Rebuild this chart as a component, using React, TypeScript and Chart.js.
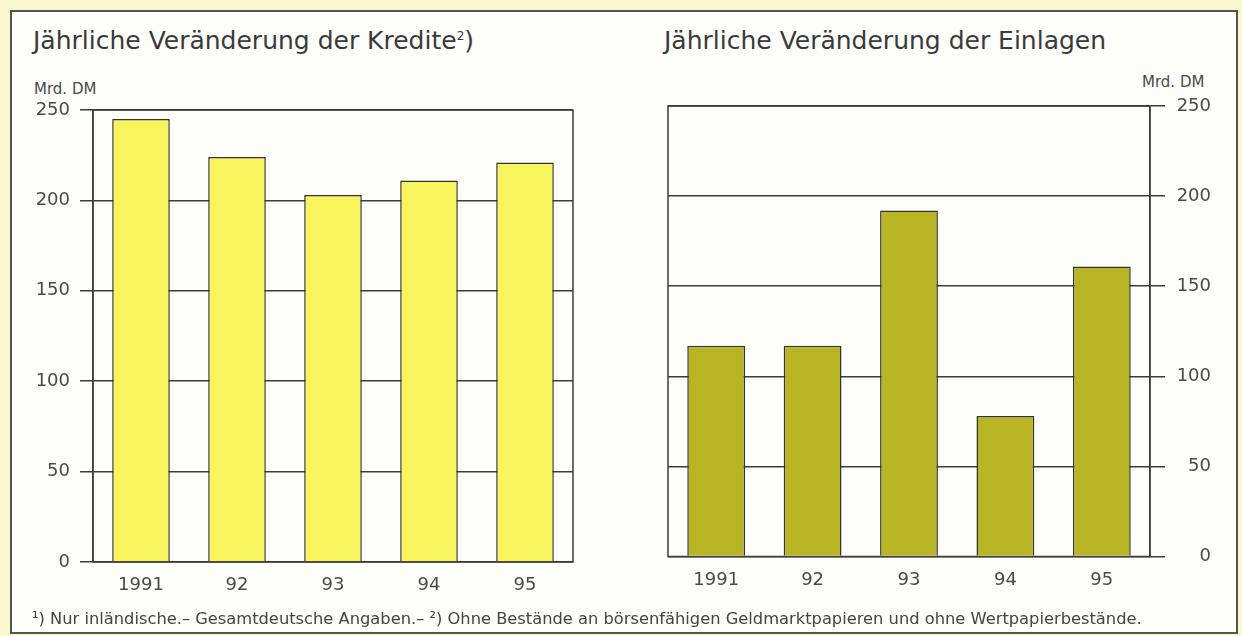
import React, { useEffect, useRef } from "react";
import { Chart, registerables } from "chart.js";

Chart.register(...registerables);

const years = ["1991", "92", "93", "94", "95"];
const kredite = [245, 224, 203, 211, 221];
const einlagen = [117, 117, 192, 78, 161];
const yTicks = [0, 50, 100, 150, 200, 250];
const titleKredite = "Jährliche Veränderung der Kredite";
const titleEinlagen = "Jährliche Veränderung der Einlagen";
const unitLabel = "Mrd. DM";
const footnote =
  "¹) Nur inländische.– Gesamtdeutsche Angaben.– ²) Ohne Bestände an börsenfähigen Geldmarktpapieren und ohne Wertpapierbestände.";

const FONT = "'DejaVu Sans', 'Liberation Sans', sans-serif";
const LINE = "#3c3c3c";
const TEXT = "#4a4a4a";

const framePlugin = {
  id: "frame",
  beforeDatasetsDraw(chart: any) {
    const { ctx, chartArea: a } = chart;
    ctx.save();
    ctx.strokeStyle = LINE;
    ctx.lineWidth = 1.5;
    ctx.strokeRect(a.left, a.top, a.right - a.left, a.bottom - a.top);
    ctx.restore();
  },
};

function makeConfig(values: number[], color: string, side: "left" | "right") {
  const left = side === "left";
  return {
    type: "bar" as const,
    data: {
      labels: years,
      datasets: [
        {
          data: values,
          backgroundColor: color,
          borderColor: "#333",
          borderWidth: 1.5,
          barPercentage: 0.6,
          categoryPercentage: 1,
        },
      ],
    },
    options: {
      animation: false as const,
      responsive: false,
      devicePixelRatio: 1,
      layout: {
        padding: left
          ? { top: 110, right: 47, left: 0, bottom: 0 }
          : { top: 106, right: 31, left: 48, bottom: 0 },
      },
      plugins: { legend: { display: false }, tooltip: { enabled: false }, title: { display: false } },
      scales: {
        x: {
          grid: { display: false },
          border: { display: false },
          ticks: { font: { family: FONT, size: 18 }, color: TEXT, padding: 5 },
          afterFit: (s: any) => {
            s.height = left ? 74 : 79.5;
          },
        },
        y: {
          position: side,
          min: 0,
          max: 250,
          afterBuildTicks: (s: any) => {
            s.ticks = yTicks.map((v) => ({ value: v }));
          },
          grid: { color: LINE, lineWidth: 1.5, tickLength: left ? 13 : 15 },
          border: { display: true, color: LINE, width: 1.5 },
          ticks: {
            font: { family: FONT, size: 18 },
            color: TEXT,
            padding: left ? 10 : 12,
            crossAlign: left ? "near" : "far",
          },
          afterFit: (s: any) => {
            s.width = left ? 93 : 61;
          },
        },
      },
    },
    plugins: [framePlugin],
  };
}

function BarChart({ values, color, side, x, w }: { values: number[]; color: string; side: "left" | "right"; x: number; w: number }) {
  const ref = useRef<HTMLCanvasElement | null>(null);
  useEffect(() => {
    if (!ref.current) return;
    const chart = new Chart(ref.current, makeConfig(values, color, side) as any);
    return () => chart.destroy();
  }, []);
  return (
    <canvas
      ref={ref}
      width={w}
      height={636}
      style={{ position: "absolute", left: x, top: 0, width: w, height: 636 }}
    />
  );
}

const textBase: React.CSSProperties = {
  position: "absolute",
  fontFamily: FONT,
  color: "#3a3a3a",
  whiteSpace: "nowrap",
  lineHeight: 1,
};

export default function App() {
  return (
    <div
      style={{
        position: "absolute",
        left: 0,
        top: 0,
        width: 1242,
        height: 636,
        overflow: "hidden",
        background: "#fbf8cf",
      }}
    >
      <div
        style={{
          position: "absolute",
          left: 10,
          top: 10,
          width: 1224,
          height: 620,
          border: "2px solid #555",
          background: "#fdfdfa",
        }}
      />
      <div style={{ ...textBase, left: 33, top: 28, fontSize: 25 }}>
        {titleKredite}
        <span style={{ fontSize: 12, verticalAlign: "super" }}>2</span>)
      </div>
      <div style={{ ...textBase, left: 664, top: 28, fontSize: 25 }}>{titleEinlagen}</div>
      <div style={{ ...textBase, left: 34, top: 82, fontSize: 15, color: TEXT }}>{unitLabel}</div>
      <div style={{ ...textBase, left: 1142, top: 75, fontSize: 15, color: TEXT }}>{unitLabel}</div>
      <BarChart values={kredite} color="#f8f55c" side="left" x={0} w={620} />
      <BarChart values={einlagen} color="#b8b524" side="right" x={620} w={622} />
      <div style={{ ...textBase, left: 32, top: 611, fontSize: 16.3, color: "#444" }}>{footnote}</div>
    </div>
  );
}
